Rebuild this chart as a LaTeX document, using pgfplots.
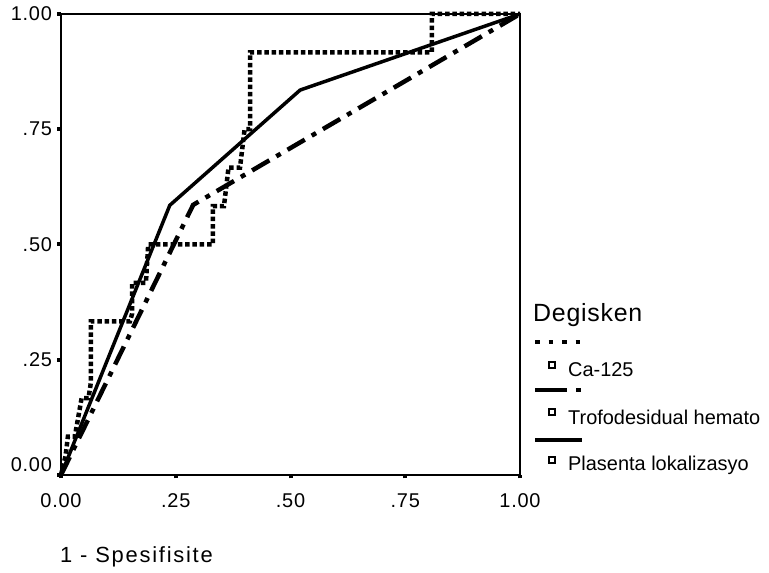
\documentclass[border=0pt]{standalone}
\usepackage{fontspec}
\setmainfont{Liberation Sans}
\usepackage{pgfplots}
\pgfplotsset{compat=1.18}
\begin{document}
\begin{tikzpicture}[x=1bp,y=1bp]
\begin{axis}[
  at={(0,0)}, anchor=origin,
  scale only axis, width=459bp, height=461bp,
  xmin=0, xmax=1, ymin=0, ymax=1,
  axis line style={line width=1.5bp},
  xtick={0,0.25,0.5,0.75,1},
  ytick={0,0.25,0.5,0.75,1},
  xticklabels={0.00,.25,.50,.75,1.00},
  yticklabels={\raisebox{3.5bp}[0pt][0pt]{0.00},.25,.50,.75,1.00},
  xtick pos=bottom, ytick pos=left,
  tick align=outside,
  major tick length=3.5bp,
  tick style={line width=4bp, black},
  ticklabel style={font=\fontsize{20}{22}\selectfont\addfontfeatures{LetterSpace=4}},
  yticklabel style={xshift=-2bp},
  xticklabel style={yshift=-12bp},
  clip=false,
]
% Ca-125 (dotted)
\addplot[black, line width=4.5bp, line cap=butt, dash pattern=on 4.5bp off 2.8bp] coordinates {
(0,0) (0.01,0.042) (0.015,0.083) (0.03,0.083) (0.045,0.167) (0.06,0.167)
(0.065,0.2) (0.065,0.333) (0.15,0.333) (0.155,0.35) (0.155,0.417)
(0.185,0.417) (0.19,0.5) (0.331,0.5) (0.331,0.583) (0.355,0.583)
(0.365,0.667) (0.39,0.667) (0.4,0.75) (0.412,0.75) (0.412,0.917)
(0.808,0.917) (0.808,1) (1,1)};
% Trofodesidual hemato (dash-dot)
\addplot[black, line width=4.5bp, line cap=butt, dash pattern=on 20bp off 8bp on 5bp off 8bp] coordinates {
(0,0) (0.288,0.586) (1,1)};
% Plasenta lokalizasyo (solid)
\addplot[black, line width=3.5bp] coordinates {
(0,0) (0.237,0.585) (0.521,0.835) (1,1)};
\end{axis}
\pgfresetboundingbox
\path[use as bounding box] (-61,-98) rectangle (708,475);
% x label
\node[anchor=base west, inner sep=0pt, font=\fontsize{22}{24}\selectfont\addfontfeatures{LetterSpace=8}] at (-1,-88) {1 - Spesifisite};
% legend
\node[anchor=base west, inner sep=0pt, font=\fontsize{25}{27}\selectfont\addfontfeatures{LetterSpace=3}] at (472,153) {Degisken};
\draw[black, line width=4.5bp, dash pattern=on 4.5bp off 9bp] (474,133) -- (524,133);
\draw[black, line width=1.2bp] (488,107) rectangle (494,113);
\node[anchor=west, inner sep=0pt, font=\fontsize{20}{22}\selectfont] at (507,105) {Ca-125};
\draw[black, line width=4.5bp, dash pattern=on 32bp off 9bp on 5bp off 9bp] (474,85) -- (521,85);
\draw[black, line width=1.2bp] (488,60) rectangle (494,66);
\node[anchor=west, inner sep=0pt, font=\fontsize{20}{22}\selectfont] at (507,58) {Trofodesidual hemato};
\draw[black, line width=4bp] (474,35) -- (521,35);
\draw[black, line width=1.2bp] (488,12) rectangle (494,18);
\node[anchor=west, inner sep=0pt, font=\fontsize{20}{22}\selectfont] at (507,10) {Plasenta lokalizasyo};
\end{tikzpicture}
\end{document}
